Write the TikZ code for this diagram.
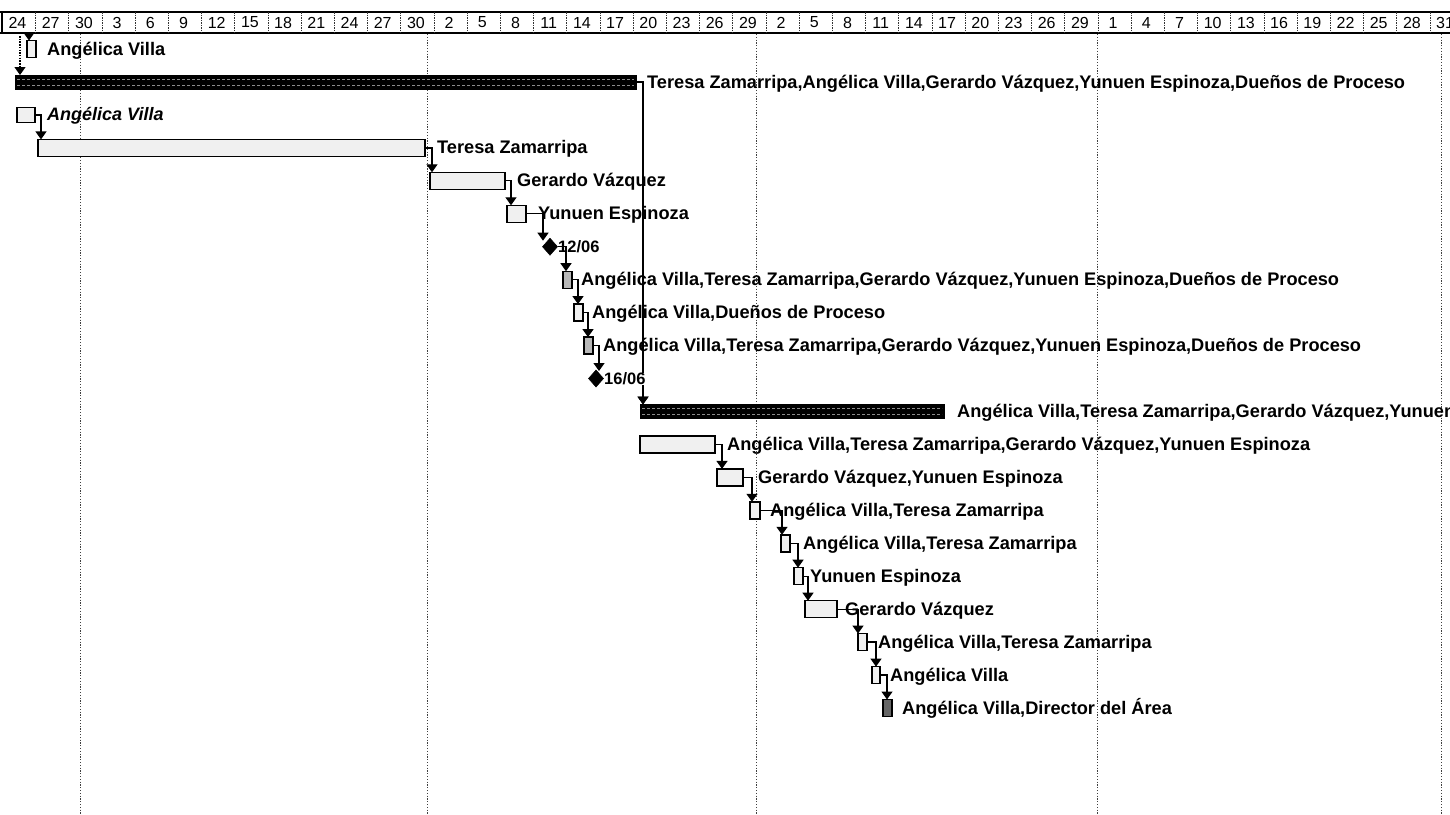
\documentclass[tikz,border=0pt]{standalone}
\usepackage{fontspec}
\setmainfont{Liberation Sans}
\usetikzlibrary{arrows.meta,shapes.geometric,calc}

\begin{document}
\begin{tikzpicture}[x=1pt,y=-1pt,
  bar/.style={draw=black, line width=1.4pt, fill=black!6, inner sep=0pt, outer sep=0pt,
              minimum height=17pt, anchor=west},
  hbar/.style={bar, fill=black!28},
  dbar/.style={bar, fill=black!60},
  sumbar/.style={draw=black, fill=black, line width=1pt, inner sep=0pt, outer sep=0pt,
                 minimum height=14pt, anchor=west},
  sumline/.style={draw=black!45, line width=0.7pt, dash pattern=on 3pt off 2pt},
  mile/.style={diamond, fill=black, draw=black, line width=0.5pt, inner sep=0pt, outer sep=0pt,
               minimum width=15pt, minimum height=17pt},
  lbl/.style={anchor=base west, inner sep=0pt, font=\bfseries\fontsize{18.2}{20}\selectfont},
  dlbl/.style={lbl, font=\bfseries\fontsize{16.5}{18}\selectfont},
  hdr/.style={inner sep=0pt, font=\fontsize{16}{18}\selectfont},
  hsep/.style={draw=black!80, line width=1pt, dash pattern=on 1.5pt off 1pt},
  conn/.style={draw=black, line width=1.3pt, -{Triangle[width=11pt,length=8pt]}},
  gridline/.style={draw=black!75, line width=1pt, dash pattern=on 1.2pt off 1.6pt},
]
\useasboundingbox (0,0) rectangle (1450,814);
\clip (0,0) rectangle (1450,814);
\fill[white] (0,0) rectangle (1450,814);

% timescale: 3-day cells
\draw[line width=1.2pt] (0,12) -- (1450,12);
\draw[line width=1.2pt] (0,33) -- (1450,33);
\draw[line width=1.2pt] (2,12) -- (2,33);
\foreach \k in {1,...,43} \draw[hsep] ({2.5+33.2*\k},12) -- ({2.5+33.2*\k},33);
\foreach \lab [count=\k from 0] in {24,27,30,3,6,9,12,15,18,21,24,27,30,2,5,8,11,14,17,20,23,26,29,2,5,8,11,14,17,20,23,26,29,1,4,7,10,13,16,19,22,25,28,31}
  \node[hdr] (h\k) at ({2.5+33.2*\k+15},22.5) {\lab};

% month boundaries
\foreach \gx in {80,427,756,1097,1441} \draw[gridline] (\gx,34) -- (\gx,814);

% task bars
\node[bar, minimum width=9pt]   (t1)  at (27,49) {};
\node[sumbar, minimum width=621pt] (s2) at (15,82) {};
\node[bar, minimum width=18pt, minimum height=15pt] (t3) at (17,114.9) {};
\node[bar, minimum width=387pt] (t4)  at (38,147.9) {};
\node[bar, minimum width=75pt]  (t5)  at (430,180.8) {};
\node[bar, minimum width=19pt]  (t6)  at (507,213.8) {};
\node[mile]                     (m7)  at (550,246.7) {};
\node[hbar, minimum width=9pt]  (t8)  at (563,279.7) {};
\node[bar, minimum width=9pt]   (t9)  at (574,312.6) {};
\node[hbar, minimum width=9pt]  (t10) at (584,345.6) {};
\node[mile]                     (m11) at (596,378.5) {};
\node[sumbar, minimum width=304pt] (s12) at (640,411.5) {};
\node[bar, minimum width=75pt]  (t13) at (640,444.4) {};
\node[bar, minimum width=26pt]  (t14) at (717,477.4) {};
\node[bar, minimum width=10pt]  (t15) at (750,510.3) {};
\node[bar, minimum width=9pt]   (t16) at (781,543.3) {};
\node[bar, minimum width=9pt]   (t17) at (794,576.2) {};
\node[bar, minimum width=32pt]  (t18) at (805,609.2) {};
\node[bar, minimum width=9pt]   (t19) at (858,642.1) {};
\node[bar, minimum width=8pt]   (t20) at (872,675.1) {};
\node[dbar, minimum width=9pt]  (t21) at (883,708) {};

% hatching inside the summary bars
\foreach \s in {s2,s12} {
  \draw[sumline] ($(\s.west)+(2,-3)$) -- ($(\s.east)+(-2,-3)$);
  \draw[sumline] ($(\s.west)+(2,3)$) -- ($(\s.east)+(-2,3)$);
}

% links coming in from rows above
\coordinate (inA) at (29,33);
\coordinate (inB) at (20,36);
\draw[conn] (inA) -- (t1.north -| inA);
\draw[conn, dash pattern=on 1.5pt off 1.2pt] (inB) -- (s2.north -| inB);

% finish-to-start links
\draw[conn] (s2.east)  -| ($(s12.north west)+(3,0)$);
\draw[conn] (t3.east)  -| ($(t4.north west)+(3,0)$);
\draw[conn] (t4.east)  -| ($(t5.north west)+(2,0)$);
\draw[conn] (t5.east)  -| ($(t6.north west)+(4,0)$);
\draw[conn] (t6.east)  -| ($(m7.west)+(0.5,-6)$);
\draw[conn] (m7.east)  -| ($(t8.north west)+(3,0)$);
\draw[conn] (t8.east)  -| ($(t9.north west)+(4,0)$);
\draw[conn] (t9.east)  -| ($(t10.north west)+(4,0)$);
\draw[conn] (t10.east) -| ($(m11.north)+(3,1)$);
\draw[conn] (m11.east) -| ($(s12.north west)+(3,0)$);
\draw[conn] (t13.east) -| ($(t14.north west)+(5,0)$);
\draw[conn] (t14.east) -| ($(t15.north west)+(2,0)$);
\draw[conn] (t15.east) -| ($(t16.north west)+(1,0)$);
\draw[conn] (t16.east) -| ($(t17.north west)+(4,0)$);
\draw[conn] (t17.east) -| ($(t18.north west)+(3,0)$);
\draw[conn] (t18.east) -| ($(t19.north west)+(0,0)$);
\draw[conn] (t19.east) -| ($(t20.north west)+(4,0)$);
\draw[conn] (t20.east) -| ($(t21.north west)+(4,0)$);

% resource labels
\node[lbl] (l1)  at (47,55)  {Angélica Villa};
\node[lbl] (l2)  at (647,88) {Teresa Zamarripa,Angélica Villa,Gerardo Vázquez,Yunuen Espinoza,Dueños de Proceso};
\node[lbl, font=\bfseries\itshape\fontsize{18}{20}\selectfont] (l3) at (47,120.9) {Angélica Villa};
\node[lbl] (l4)  at (437,153.9) {Teresa Zamarripa};
\node[lbl] (l5)  at (517,186.8) {Gerardo Vázquez};
\node[lbl] (l6)  at (538,219.8) {Yunuen Espinoza};
\node[dlbl] (l7) at (558,252.7) {12/06};
\node[lbl] (l8)  at (581,285.7) {Angélica Villa,Teresa Zamarripa,Gerardo Vázquez,Yunuen Espinoza,Dueños de Proceso};
\node[lbl] (l9)  at (592,318.6) {Angélica Villa,Dueños de Proceso};
\node[lbl] (l10) at (603,351.6) {Angélica Villa,Teresa Zamarripa,Gerardo Vázquez,Yunuen Espinoza,Dueños de Proceso};
\node[dlbl, fill=white] (l11) at (604,384.5) {16/06};
\node[lbl] (l12) at (957,417.5) {Angélica Villa,Teresa Zamarripa,Gerardo Vázquez,Yunuen Espinoza,Dueños de Proceso};
\node[lbl] (l13) at (727,450.4) {Angélica Villa,Teresa Zamarripa,Gerardo Vázquez,Yunuen Espinoza};
\node[lbl] (l14) at (758,483.4) {Gerardo Vázquez,Yunuen Espinoza};
\node[lbl] (l15) at (770,516.3) {Angélica Villa,Teresa Zamarripa};
\node[lbl] (l16) at (803,549.3) {Angélica Villa,Teresa Zamarripa};
\node[lbl] (l17) at (810,582.2) {Yunuen Espinoza};
\node[lbl] (l18) at (845,615.2) {Gerardo Vázquez};
\node[lbl] (l19) at (878,648.1) {Angélica Villa,Teresa Zamarripa};
\node[lbl] (l20) at (890,681.1) {Angélica Villa};
\node[lbl] (l21) at (902,714)   {Angélica Villa,Director del Área};
\end{tikzpicture}
\end{document}
